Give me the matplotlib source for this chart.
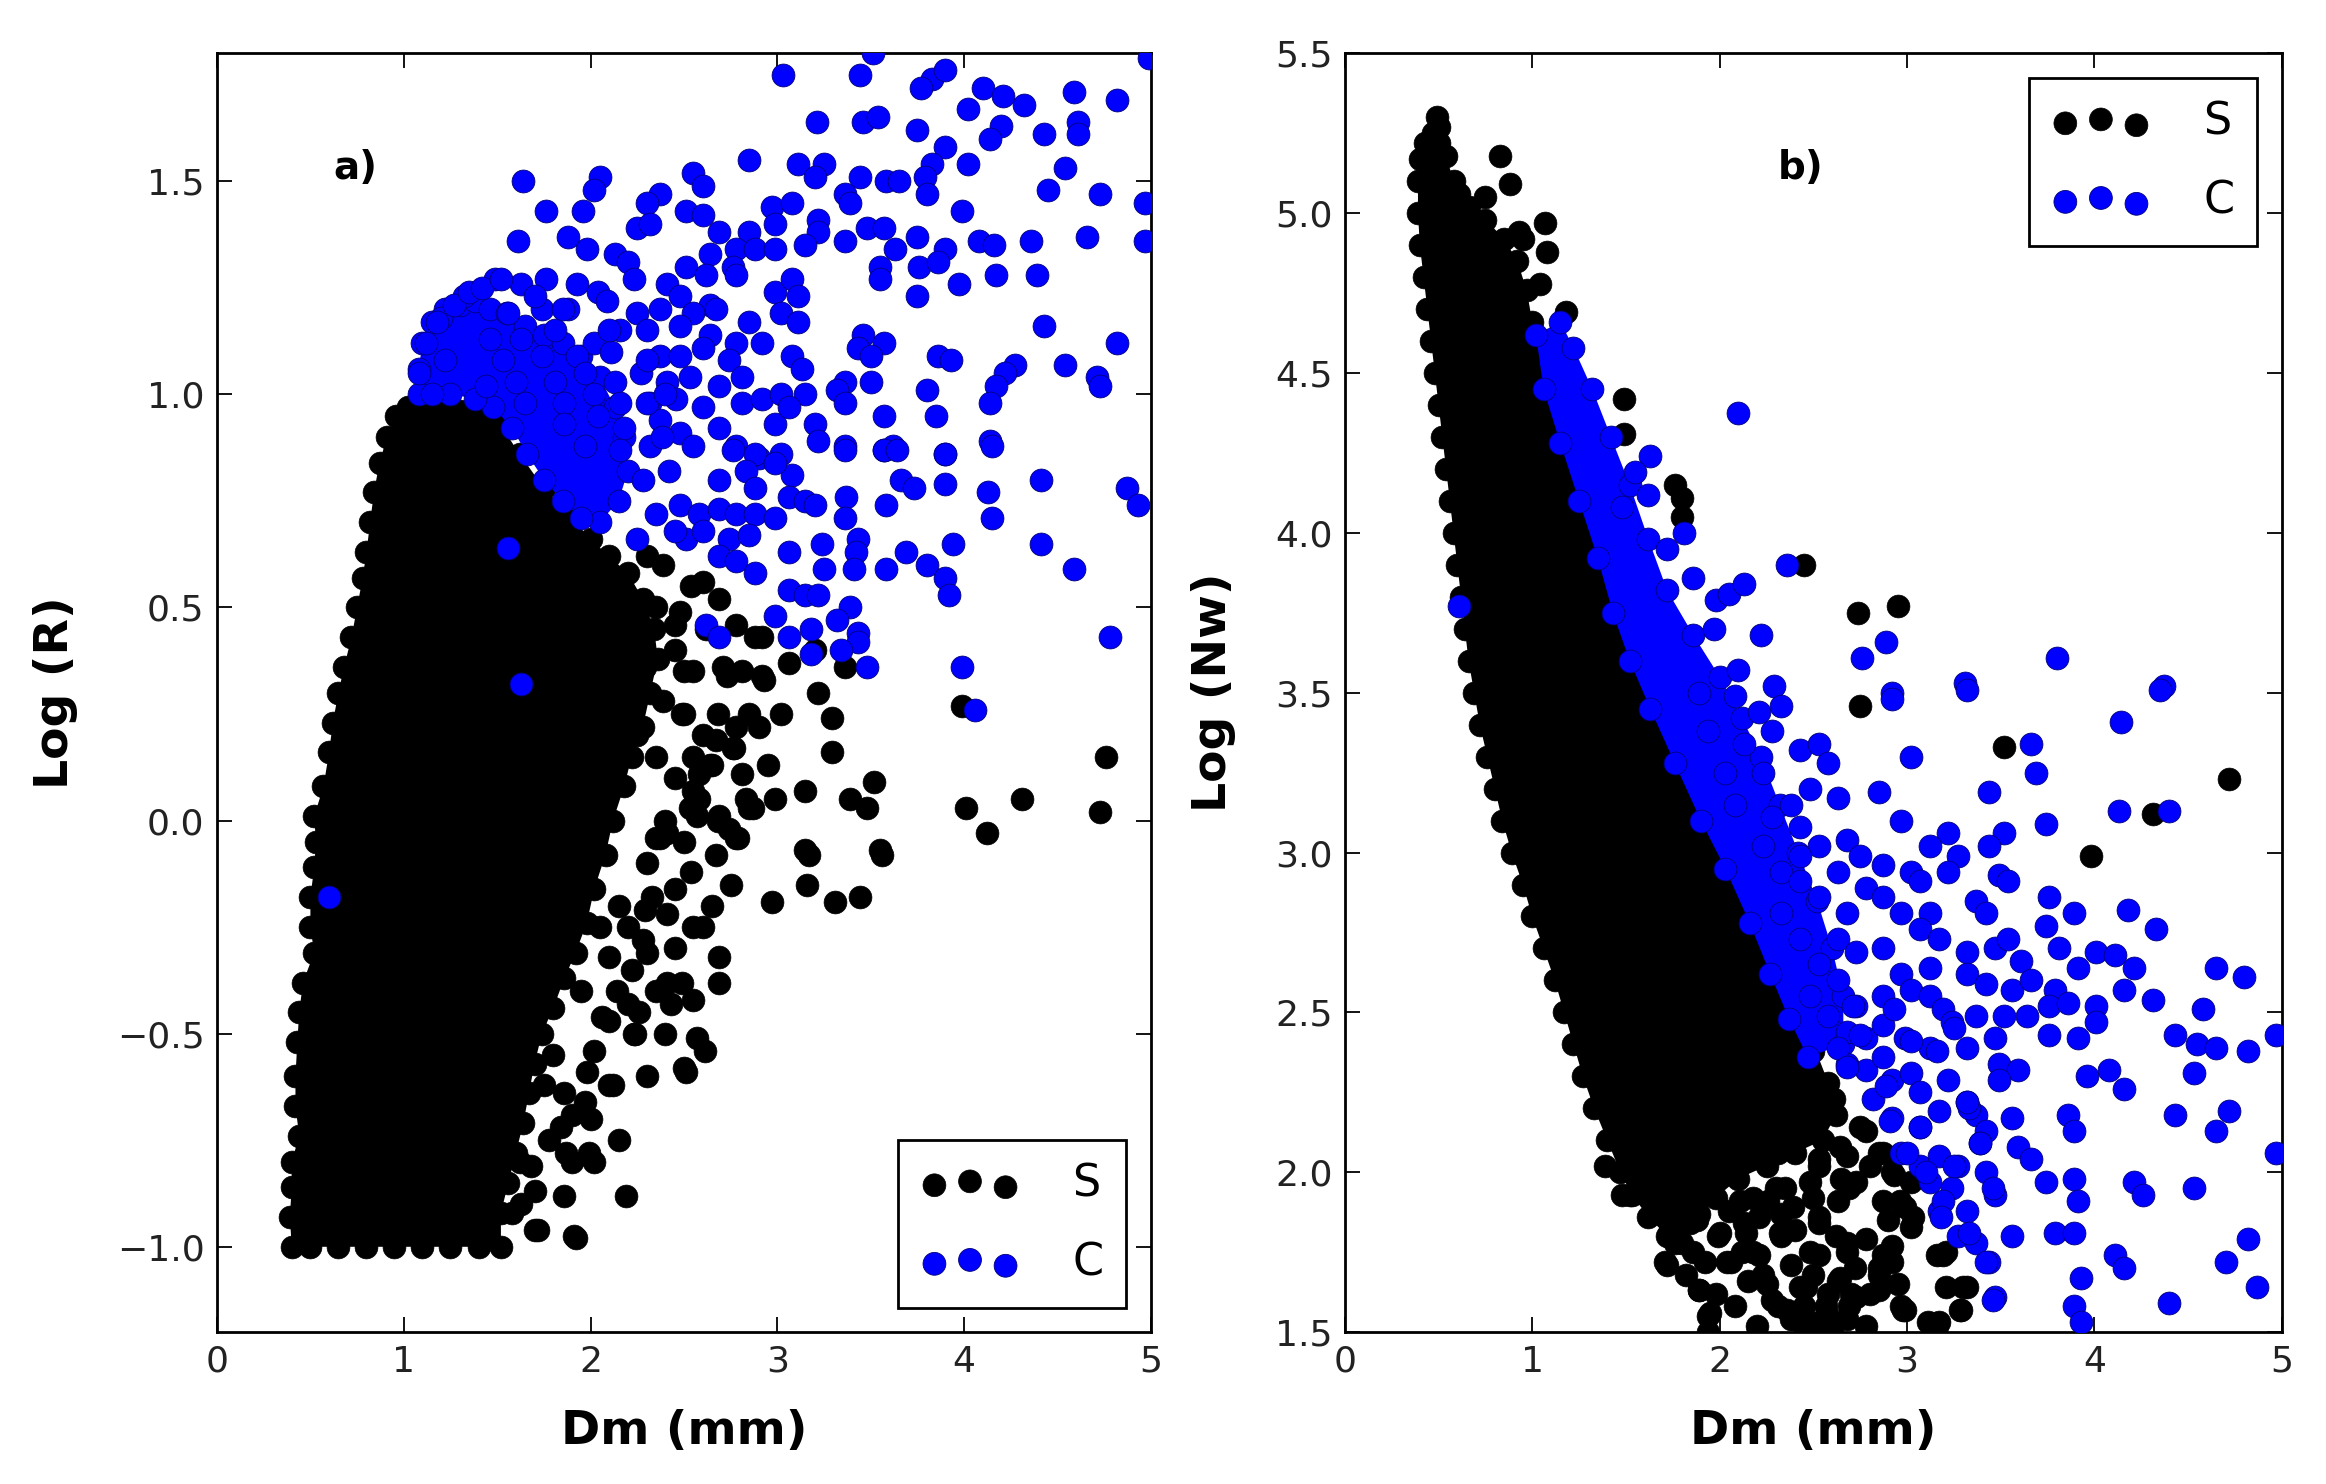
import matplotlib
matplotlib.use('Agg')
import matplotlib.pyplot as plt

plt.rcParams['font.family'] = ['DejaVu Sans']
plt.rcParams['axes.unicode_minus'] = True

# ---------------- Panel a) : Dm vs Log(R) ----------------
# centres of the outermost S points around the saturated black cloud
a_core_x = [0.40, 0.39, 0.40, 0.40, 0.44, 0.42, 0.42, 0.43, 0.44, 0.46, 0.52, 0.50, 0.50, 0.52, 0.53, 0.52,
            0.57, 0.60, 0.62, 0.65, 0.68, 0.72, 0.75, 0.78, 0.80, 0.82, 0.84, 0.87, 0.91, 0.96,
            1.02, 1.10, 1.20, 1.30, 1.40, 1.50,
            1.62, 1.75, 1.88, 2.00, 2.10, 2.20, 2.28, 2.34, 2.36, 2.32, 2.28, 2.22, 2.18, 2.12, 2.08, 2.02,
            1.98, 1.92, 1.86, 1.80, 1.74, 1.70, 1.67, 1.64, 1.60, 1.56, 1.52, 1.52,
            1.40, 1.25, 1.10, 0.95, 0.80, 0.65, 0.50]
a_core_y = [-1.00, -0.93, -0.86, -0.80, -0.74, -0.67, -0.60, -0.52, -0.45, -0.38, -0.31, -0.25, -0.18, -0.11,
            -0.05, 0.01, 0.08, 0.16, 0.23, 0.30, 0.36, 0.43, 0.50, 0.57, 0.63, 0.70, 0.77, 0.84, 0.90, 0.95,
            0.97, 0.97, 0.97, 0.96, 0.95, 0.94,
            0.86, 0.78, 0.72, 0.66, 0.62, 0.58, 0.52, 0.45, 0.38, 0.30, 0.22, 0.15, 0.08, 0.00, -0.08, -0.16,
            -0.24, -0.31, -0.37, -0.44, -0.50, -0.57, -0.64, -0.71, -0.78, -0.85, -0.92, -1.00,
            -1.00, -1.00, -1.00, -1.00, -1.00, -1.00, -1.00]
# scattered S points
a_s_x = [2.39, 2.60, 2.69, 2.48, 2.78, 2.88, 2.92, 2.71, 2.81, 2.92, 3.06, 3.20, 3.36, 3.22, 3.02, 2.85, 2.78,
         2.90, 2.67, 2.76, 2.55, 2.64, 2.95, 3.29, 3.29, 3.15, 2.99, 2.83, 2.69, 2.74, 2.78, 3.39, 3.48, 3.52,
         3.15, 3.55, 4.01, 4.12, 4.31, 4.73, 4.76, 3.99, 2.55, 2.53, 2.41, 2.37,
         3.56, 3.17, 3.44, 3.31, 2.97, 3.16, 2.57, 2.67, 2.69, 2.69, 2.55, 2.57, 2.61, 2.51, 2.23, 2.19, 1.92,
         1.86, 2.02, 1.90, 1.70, 2.33, 2.41, 2.45, 2.30, 2.22, 2.14, 2.35, 2.41, 2.26, 2.10, 2.02, 1.98, 1.86,
         1.90, 1.78, 1.62, 1.70, 1.58, 2.85, 2.81, 2.65, 2.60, 2.49, 2.43, 2.24, 2.50, 1.99, 1.87, 2.75, 2.54,
         2.79, 2.68, 2.35, 2.29, 2.10, 2.20, 2.06, 1.97, 1.84, 1.68, 1.63, 1.72, 1.91,
         2.54, 2.73, 2.93, 2.77, 2.58, 2.87, 2.45, 2.49, 2.29, 2.39, 2.68, 2.58,
         2.30, 2.45, 2.35, 2.50, 2.35, 2.45, 2.25, 2.40, 2.30, 2.05, 2.15, 1.95, 1.80, 1.75, 2.12, 2.28,
         2.00, 2.10, 2.15, 2.30, 2.40, 2.55, 2.65, 2.45, 2.20, 2.50, 2.60, 2.50, 2.55, 2.62]
a_s_y = [0.60, 0.56, 0.52, 0.49, 0.46, 0.43, 0.43, 0.36, 0.35, 0.34, 0.37, 0.40, 0.36, 0.30, 0.25, 0.25, 0.22,
         0.22, 0.19, 0.17, 0.15, 0.13, 0.13, 0.24, 0.16, 0.07, 0.05, 0.05, 0.01, -0.02, -0.04, 0.05, 0.03, 0.09,
         -0.07, -0.07, 0.03, -0.03, 0.05, 0.02, 0.15, 0.27, 0.07, 0.03, -0.03, -0.04,
         -0.08, -0.08, -0.18, -0.19, -0.19, -0.15, 0.01, -0.08, -0.32, -0.38, -0.25, -0.51, -0.54, -0.59, -0.50,
         -0.88, -0.98, -0.88, -0.80, -0.80, -0.96, -0.18, -0.22, -0.16, -0.31, -0.35, -0.40, -0.40, -0.38, -0.45,
         -0.47, -0.54, -0.59, -0.64, -0.69, -0.75, -0.80, -0.87, -0.92, 0.03, 0.11, 0.13, -0.25, -0.38, -0.43,
         -0.50, -0.58, -0.78, -0.78, -0.15, -0.12, -0.04, 0.00, -0.04, -0.21, -0.32, -0.43, -0.46, -0.66, -0.72,
         -0.81, -0.90, -0.96, -0.975,
         0.55, 0.34, 0.33, 0.17, 0.11, 0.03, 0.46, 0.25, 0.36, 0.28, 0.25, 0.05,
         0.62, 0.40, 0.50, 0.35, 0.15, 0.10, 0.20, 0.00, -0.10, -0.25, -0.20, -0.40, -0.55, -0.62, -0.62, -0.28,
         -0.70, -0.62, -0.75, -0.60, -0.50, -0.42, -0.20, -0.30, -0.25, -0.05, 0.20, 0.25, 0.35, 0.45]
# centres of the outermost C points around the saturated blue cluster
a_blue_core_x = [1.08, 1.08, 1.10, 1.15, 1.22, 1.30, 1.38, 1.46, 1.55, 1.65, 1.75, 1.85, 1.95, 2.05, 2.13,
                 2.18, 2.20, 2.15, 2.05, 1.95, 1.85, 1.75, 1.66, 1.58, 1.48, 1.38, 1.25, 1.15]
a_blue_core_y = [1.00, 1.06, 1.12, 1.17, 1.20, 1.21, 1.22, 1.20, 1.19, 1.16, 1.14, 1.12, 1.09, 1.04, 0.97,
                 0.90, 0.82, 0.75, 0.70, 0.71, 0.75, 0.80, 0.86, 0.92, 0.97, 0.99, 1.00, 1.00]
# scattered C points
a_c_x = [3.03, 3.44, 3.51, 3.83, 3.90, 3.77, 4.10, 4.21, 4.32, 4.02, 4.59, 4.82, 3.21, 3.46, 3.54, 3.75, 4.20,
         4.14, 4.43, 4.61, 4.61, 2.85, 3.11, 3.25, 3.90, 3.83, 4.02, 4.54, 1.64, 2.05, 2.02, 2.55, 2.60, 3.20,
         3.44, 3.58, 3.65, 3.79, 4.45, 4.73, 4.97, 1.76, 1.96, 2.37, 2.30, 2.51, 2.60, 2.97, 3.08, 3.36, 3.39,
         3.80, 3.99, 1.61, 1.88, 1.98, 2.25, 2.32, 2.69, 2.85, 2.99, 3.22, 3.22, 3.15, 3.36, 3.48, 3.57, 3.63,
         3.75, 3.90, 4.08, 4.16, 4.36, 4.66, 4.97, 2.13, 2.20, 2.51, 2.64, 2.78, 2.88, 2.99, 2.62, 2.76, 3.55,
         3.55, 3.76, 3.86, 3.97, 4.17, 4.39, 1.49, 1.63, 1.76, 1.93, 2.04, 2.23, 2.41, 2.48, 2.64, 2.78, 2.99,
         3.08, 3.11, 3.75, 1.56, 1.74, 1.88, 2.09, 2.25, 2.37, 2.55, 2.67, 2.85, 3.02, 3.11, 4.43, 4.82, 1.46,
         1.63, 1.81, 2.02, 2.16, 2.30, 2.48, 2.64, 2.78, 2.92, 3.46, 3.43, 3.57, 3.50, 1.53, 1.74, 1.93, 2.11,
         2.37, 2.48, 2.60, 2.74, 3.08, 3.13, 3.86, 3.93, 4.27, 4.22, 4.54, 4.71, 4.73, 1.44, 1.60, 1.81, 1.97,
         2.13, 2.27, 2.41, 2.53, 2.69, 2.81, 3.36, 3.50, 3.80, 4.17, 4.14, 1.65, 1.86, 2.02, 2.16, 2.32, 2.46,
         2.60, 2.81, 2.92, 3.02, 3.15, 3.32, 3.36, 1.86, 2.04, 2.18, 2.37, 2.48, 2.69, 2.99, 3.06, 3.20, 3.57,
         3.85, 1.97, 2.16, 2.32, 2.55, 2.78, 2.90, 3.02, 3.36, 3.57, 3.62, 3.90, 4.14,
         3.22, 3.36, 3.57, 3.64, 3.90, 4.15, 3.08, 3.66, 3.73, 3.90, 4.13, 4.41, 4.87, 4.93, 2.76, 2.88, 2.99,
         2.69, 2.83, 2.88, 3.06, 3.15, 3.20, 3.37, 3.58, 4.15, 2.48, 2.58, 2.69, 2.78, 2.88, 2.99, 3.36, 2.51,
         2.60, 2.74, 2.85, 3.06, 3.24, 3.43, 3.42, 3.69, 3.94, 4.41, 2.69, 2.78, 2.88, 3.25, 3.41, 3.58, 3.80,
         3.90, 3.92, 4.59, 3.06, 3.15, 3.22, 3.39, 2.99, 2.62, 2.69, 3.18, 3.32, 3.43, 3.43, 3.06, 3.34, 3.18,
         3.48, 3.99, 4.78, 4.06,
         1.32, 1.20, 1.12, 1.18, 1.27, 1.35, 1.08, 1.22, 1.56, 1.63, 0.60, 4.99,
         2.30, 2.38, 2.28, 2.42, 2.35, 2.25, 2.45, 2.40, 1.42, 1.52, 1.70, 1.85, 2.10, 2.30]
a_c_y = [1.75, 1.75, 1.80, 1.74, 1.76, 1.72, 1.72, 1.70, 1.68, 1.67, 1.71, 1.69, 1.64, 1.64, 1.65, 1.62, 1.63,
         1.60, 1.61, 1.64, 1.61, 1.55, 1.54, 1.54, 1.58, 1.54, 1.54, 1.53, 1.50, 1.51, 1.48, 1.52, 1.49, 1.51,
         1.51, 1.50, 1.50, 1.51, 1.48, 1.47, 1.45, 1.43, 1.43, 1.47, 1.45, 1.43, 1.42, 1.44, 1.45, 1.47, 1.45,
         1.47, 1.43, 1.36, 1.37, 1.34, 1.39, 1.40, 1.38, 1.38, 1.40, 1.41, 1.38, 1.35, 1.36, 1.39, 1.39, 1.34,
         1.37, 1.34, 1.36, 1.35, 1.36, 1.37, 1.36, 1.33, 1.31, 1.30, 1.33, 1.34, 1.34, 1.34, 1.28, 1.30, 1.30,
         1.27, 1.30, 1.31, 1.26, 1.28, 1.28, 1.27, 1.26, 1.27, 1.26, 1.24, 1.27, 1.26, 1.23, 1.21, 1.28, 1.24,
         1.27, 1.23, 1.23, 1.19, 1.20, 1.20, 1.22, 1.19, 1.20, 1.19, 1.20, 1.17, 1.19, 1.17, 1.16, 1.12, 1.13,
         1.13, 1.15, 1.12, 1.15, 1.15, 1.16, 1.14, 1.12, 1.12, 1.14, 1.11, 1.12, 1.09, 1.08, 1.09, 1.09, 1.10,
         1.09, 1.09, 1.11, 1.08, 1.09, 1.06, 1.09, 1.08, 1.07, 1.05, 1.07, 1.04, 1.02, 1.02, 1.03, 1.03, 1.05,
         1.03, 1.05, 1.03, 1.04, 1.02, 1.04, 1.03, 1.03, 1.01, 1.02, 0.98, 0.98, 0.98, 1.00, 0.98, 0.98, 0.99,
         0.97, 0.98, 0.99, 1.00, 1.00, 1.01, 0.98, 0.93, 0.95, 0.92, 0.94, 0.91, 0.92, 0.93, 0.97, 0.93, 0.95,
         0.95, 0.88, 0.87, 0.88, 0.88, 0.88, 0.85, 0.86, 0.88, 0.87, 0.88, 0.86, 0.89,
         0.89, 0.87, 0.87, 0.87, 0.86, 0.88, 0.81, 0.80, 0.78, 0.79, 0.77, 0.80, 0.78, 0.74, 0.87, 0.86, 0.84,
         0.80, 0.82, 0.78, 0.76, 0.75, 0.74, 0.76, 0.74, 0.71, 0.74, 0.72, 0.73, 0.72, 0.72, 0.71, 0.71, 0.66,
         0.68, 0.66, 0.67, 0.63, 0.65, 0.66, 0.63, 0.63, 0.65, 0.65, 0.62, 0.61, 0.58, 0.59, 0.59, 0.59, 0.60,
         0.57, 0.53, 0.59, 0.54, 0.53, 0.53, 0.50, 0.48, 0.46, 0.43, 0.45, 0.47, 0.44, 0.42, 0.43, 0.40, 0.39,
         0.36, 0.36, 0.43, 0.26,
         1.23, 1.18, 1.12, 1.17, 1.21, 1.24, 1.05, 1.08, 0.64, 0.32, -0.18, 1.79,
         0.98, 0.90, 0.80, 0.82, 0.72, 0.66, 0.68, 1.00, 1.25, 1.27, 1.23, 1.20, 1.15, 1.08]

# ---------------- Panel b) : Dm vs Log(Nw) ----------------
# centres of the outermost S points around the saturated black cloud
b_core_x = [1.80, 1.72, 1.62, 1.53, 1.47, 1.40, 1.33, 1.27, 1.22, 1.17, 1.12, 1.06, 1.00, 0.95, 0.89, 0.84,
            0.80, 0.76, 0.72, 0.69, 0.66, 0.64, 0.62, 0.60, 0.58, 0.56, 0.54, 0.52, 0.50, 0.48, 0.46, 0.44,
            0.42, 0.40, 0.39, 0.39, 0.40, 0.43, 0.47, 0.50,
            0.54, 0.58, 0.66, 0.75, 0.85, 0.92, 0.97, 1.00, 1.04, 1.10, 1.22, 1.33, 1.43, 1.52, 1.65, 1.90,
            2.08, 2.26, 2.38, 2.50, 2.58, 2.62, 2.55, 2.40, 2.25, 2.10, 1.98, 1.88]
b_core_y = [1.78, 1.80, 1.86, 1.93, 2.00, 2.10, 2.20, 2.30, 2.40, 2.50, 2.60, 2.70, 2.80, 2.90, 3.00, 3.10,
            3.20, 3.30, 3.40, 3.50, 3.60, 3.70, 3.80, 3.90, 4.00, 4.10, 4.20, 4.30, 4.40, 4.50, 4.60, 4.70,
            4.80, 4.90, 5.00, 5.10, 5.17, 5.22, 5.25, 5.27,
            5.18, 5.10, 5.02, 4.98, 4.92, 4.85, 4.76, 4.66, 4.58, 4.41, 4.22, 4.03, 3.83, 3.64, 3.50, 3.15,
            2.95, 2.76, 2.56, 2.40, 2.28, 2.18, 2.10, 2.06, 2.02, 1.98, 1.92, 1.85]
b_s_x = [2.45, 2.74, 2.95, 1.49, 1.49, 1.76, 1.80, 1.80, 1.07, 1.08, 1.04, 1.18, 0.83, 0.88, 0.75, 0.61,
         0.49, 0.50, 0.93, 0.95,
         1.39, 1.52, 1.71, 1.89, 1.94, 2.06, 2.23, 2.18, 2.33, 2.38, 2.43, 2.53, 2.53, 2.68, 2.63, 2.73, 2.87,
         2.85, 2.97, 3.02, 2.99, 2.87, 3.02, 2.92, 2.87, 2.73, 2.63, 2.48, 2.33, 2.26, 2.13, 1.99, 1.84, 1.76,
         1.64, 2.68, 2.53, 2.38, 2.31, 1.94, 3.17, 3.32, 3.19, 3.29, 2.78, 2.68, 2.53, 2.31, 2.18, 2.75, 3.52,
         3.98, 4.31, 4.72, 2.99, 3.11, 3.21, 3.16, 2.92, 2.70, 2.45, 2.60,
         1.72, 1.89, 1.95, 1.48, 1.73, 1.86, 2.00, 2.04, 2.21, 2.25, 2.36, 2.39, 2.50, 2.57, 2.64, 2.69, 2.68,
         2.78, 2.85, 2.85, 2.92, 2.98, 3.03, 2.96, 2.93, 2.85, 2.75, 2.69, 2.53, 2.39, 2.30, 2.21, 2.11, 1.89,
         1.79, 1.57, 3.21, 3.16, 3.30, 3.28, 2.46, 2.32, 2.14, 2.25, 2.39, 2.53, 2.64, 2.61, 2.50, 2.46,
         1.98, 2.08, 2.15, 2.28, 2.20, 2.45, 2.58, 2.48, 2.40, 2.62, 2.72, 2.80, 2.78, 2.95, 2.05, 2.18, 2.35,
         2.50, 2.65, 2.80, 1.92, 1.82, 2.12, 2.58, 2.90]
b_s_y = [3.90, 3.75, 3.77, 4.42, 4.31, 4.15, 4.11, 4.05, 4.97, 4.88, 4.78, 4.69, 5.18, 5.09, 5.05, 5.06,
         5.30, 5.22, 4.94, 4.92,
         2.02, 1.93, 1.72, 1.63, 1.55, 1.72, 1.68, 1.75, 1.80, 1.71, 1.64, 1.74, 1.84, 1.78, 1.66, 1.61, 1.74,
         1.68, 1.58, 1.83, 1.89, 1.91, 1.97, 2.00, 2.06, 1.97, 1.91, 1.97, 1.87, 1.91, 1.84, 1.80, 1.84, 1.78,
         1.91, 1.54, 1.53, 1.54, 1.58, 1.50, 1.53, 1.64, 1.74, 1.57, 2.13, 2.05, 2.02, 2.06, 2.10, 3.46, 3.33,
         2.99, 3.12, 3.23, 1.57, 1.53, 1.64, 1.74, 1.72, 1.62, 1.52, 1.50,
         1.71, 1.63, 1.56, 1.93, 1.81, 1.75, 1.81, 1.72, 1.74, 1.65, 1.57, 1.54, 1.68, 1.58, 1.67, 1.58, 1.75,
         1.79, 1.70, 1.63, 1.77, 1.57, 1.86, 1.91, 1.99, 2.06, 2.14, 1.95, 1.86, 1.89, 1.95, 1.86, 1.91, 1.87,
         1.91, 1.95, 1.75, 1.52, 1.64, 1.57, 1.64, 1.81, 1.81, 2.07, 2.12, 2.04, 2.08, 2.23, 2.38, 2.49,
         1.62, 1.58, 1.66, 1.60, 1.52, 1.58, 1.62, 1.75, 1.82, 1.80, 1.70, 1.62, 1.52, 1.65, 1.88, 1.92, 1.95,
         1.92, 1.98, 2.02, 1.72, 1.68, 1.75, 1.55, 1.85]
# centres of the outermost C points around the saturated blue band
b_blue_core_x = [1.02, 1.06, 1.15, 1.25, 1.35, 1.43, 1.52, 1.63, 1.76, 1.90, 2.03, 2.16, 2.27, 2.37, 2.47,
                 2.66, 2.66, 2.60, 2.52, 2.42, 2.32, 2.22, 2.12, 2.00, 1.86, 1.72, 1.62, 1.52, 1.42, 1.32,
                 1.22, 1.15]
b_blue_core_y = [4.62, 4.45, 4.28, 4.10, 3.92, 3.75, 3.60, 3.45, 3.28, 3.10, 2.95, 2.78, 2.62, 2.48, 2.36,
                 2.40, 2.55, 2.70, 2.85, 3.00, 3.15, 3.30, 3.42, 3.55, 3.68, 3.82, 3.98, 4.15, 4.30, 4.45,
                 4.58, 4.66]
b_c_x = [2.10, 1.63, 1.55, 1.62, 1.48, 1.81, 1.72, 1.86, 1.98, 2.05, 2.13, 1.97, 2.22, 2.36, 2.76, 2.89,
         3.31, 2.92, 2.10, 2.29, 3.80, 4.37, 0.61,
         3.32, 4.35, 2.92, 4.14, 3.02, 3.66, 3.69, 3.44, 2.85, 4.13, 4.40, 3.74, 2.97, 3.22, 3.52, 3.44, 3.12,
         3.27, 2.68, 2.75, 2.53, 2.43, 2.63, 2.87, 3.02, 3.07, 3.22, 3.49, 3.54, 3.37, 3.42, 3.76, 3.89, 4.18,
         4.33, 3.74, 2.78, 2.87, 2.53, 2.68, 2.97, 3.12, 3.07, 3.17, 3.32, 3.47, 3.54, 3.61, 3.81, 3.91, 4.01,
         4.11, 4.21, 4.65, 4.80, 2.63, 2.73, 2.87, 2.97, 3.12, 3.32, 3.42, 3.56, 3.66, 3.79, 3.76, 3.86, 4.01,
         4.16, 4.31, 4.58, 4.97, 2.63, 2.73, 2.87, 3.02, 3.12, 3.19, 3.37, 3.52, 3.64, 3.76, 3.91, 4.01, 4.43,
         4.55, 4.65, 4.82, 2.68, 2.78, 2.87, 2.99, 3.12, 3.24, 3.32, 3.47, 3.49, 3.59, 3.96, 4.08, 4.16, 4.53,
         2.68, 2.78, 2.87, 2.92, 3.02, 3.07, 3.22, 3.32, 3.37, 3.56, 3.86, 3.89, 4.43, 4.65, 4.72, 2.82, 2.92,
         3.07, 3.17, 3.42, 3.39, 3.59, 3.66, 3.74, 3.89, 3.91, 4.21, 4.26, 4.53, 4.97, 2.97, 3.07, 3.17, 3.27,
         3.42, 3.47, 3.12, 3.24, 3.32, 3.17, 3.56, 3.79, 3.89, 3.27, 3.37, 3.44, 4.11, 4.16, 3.93, 4.70, 4.82,
         4.87, 3.47, 3.89, 3.93, 4.40,
         1.89, 2.08, 2.21, 2.33, 2.13, 2.28, 2.43, 2.53, 2.58, 2.63, 2.48, 2.38, 2.23, 2.28, 2.43, 2.23, 2.33,
         2.43, 2.33, 2.43, 2.53, 2.48, 2.58, 2.63, 2.08, 2.03, 1.94,
         2.91, 3.07, 3.00, 3.10, 3.19, 3.18, 3.33, 3.42, 3.46, 3.33, 3.39, 3.25, 3.46, 3.02, 3.16, 2.89, 2.68,
         2.75, 3.25, 3.49, 3.32, 2.93, 2.71]
b_c_y = [4.375, 4.24, 4.19, 4.12, 4.08, 4.00, 3.95, 3.86, 3.79, 3.81, 3.84, 3.70, 3.68, 3.90, 3.61, 3.66,
         3.53, 3.50, 3.57, 3.52, 3.61, 3.52, 3.77,
         3.51, 3.51, 3.48, 3.41, 3.30, 3.34, 3.25, 3.19, 3.19, 3.13, 3.13, 3.09, 3.10, 3.06, 3.06, 3.02, 3.02,
         2.99, 3.04, 2.99, 3.02, 2.99, 2.94, 2.96, 2.94, 2.91, 2.94, 2.93, 2.91, 2.85, 2.81, 2.86, 2.81, 2.82,
         2.76, 2.77, 2.89, 2.86, 2.86, 2.81, 2.81, 2.81, 2.76, 2.73, 2.69, 2.70, 2.73, 2.66, 2.70, 2.64, 2.69,
         2.68, 2.64, 2.64, 2.61, 2.73, 2.69, 2.70, 2.62, 2.64, 2.62, 2.59, 2.57, 2.60, 2.57, 2.52, 2.53, 2.52,
         2.57, 2.54, 2.51, 2.43, 2.60, 2.52, 2.55, 2.57, 2.55, 2.51, 2.49, 2.49, 2.49, 2.43, 2.42, 2.47, 2.43,
         2.40, 2.39, 2.38, 2.44, 2.42, 2.46, 2.42, 2.39, 2.47, 2.39, 2.42, 2.34, 2.32, 2.30, 2.32, 2.26, 2.31,
         2.34, 2.32, 2.36, 2.29, 2.31, 2.25, 2.29, 2.22, 2.18, 2.17, 2.18, 2.13, 2.18, 2.13, 2.19, 2.23, 2.17,
         2.14, 2.19, 2.13, 2.09, 2.08, 2.04, 1.97, 1.98, 1.91, 1.97, 1.93, 1.95, 2.06, 2.06, 2.02, 2.05, 2.02,
         2.00, 1.93, 1.97, 1.95, 1.88, 1.88, 1.80, 1.81, 1.81, 1.80, 1.78, 1.72, 1.74, 1.70, 1.67, 1.72, 1.79,
         1.64, 1.61, 1.58, 1.53, 1.59,
         3.50, 3.49, 3.44, 3.46, 3.34, 3.38, 3.32, 3.34, 3.28, 3.17, 3.20, 3.15, 3.25, 3.11, 3.08, 3.02, 2.94,
         2.91, 2.81, 2.73, 2.65, 2.55, 2.49, 2.39, 3.15, 3.25, 3.38,
         2.16, 2.14, 2.06, 2.00, 1.91, 1.86, 1.81, 1.72, 1.60, 2.20, 2.09, 2.02, 1.95, 2.41, 2.38, 2.27, 2.33,
         2.43, 2.45, 2.29, 2.22, 2.51, 2.52]

xticks = [0, 1, 2, 3, 4, 5]
a_yticks = [-1.0, -0.5, 0.0, 0.5, 1.0, 1.5]
b_yticks = [1.5, 2.0, 2.5, 3.0, 3.5, 4.0, 4.5, 5.0, 5.5]

BLUE = '#0000ff'
S_SIZE = 270

fig = plt.figure(figsize=(23.26, 14.84), dpi=100)
fig.patch.set_facecolor('white')
axa = fig.add_axes([0.0933, 0.1024, 0.4015, 0.8616])
axb = fig.add_axes([0.5782, 0.1024, 0.4028, 0.8616])


def style(ax, yticks, ylim, ylabel, tag, tagxy):
    ax.set_xlim(0, 5)
    ax.set_ylim(*ylim)
    ax.set_xticks(xticks)
    ax.set_yticks(yticks)
    ax.set_xticklabels([str(t) for t in xticks])
    ax.set_yticklabels([f'{t:.1f}'.replace('-', '\u2212') for t in yticks])
    ax.tick_params(direction='in', top=True, right=True, length=11, width=1.3,
                   labelsize=26, pad=9, colors='black', labelcolor='#222222')
    for sp in ax.spines.values():
        sp.set_linewidth(2.0)
        sp.set_color('black')
    ax.set_xlabel('Dm (mm)', fontsize=34, fontweight='bold', labelpad=22)
    ax.set_ylabel(ylabel, fontsize=34, fontweight='bold', labelpad=28)
    ax.text(tagxy[0], tagxy[1], tag, fontsize=28, fontweight='bold', ha='center', va='center', zorder=5)


def draw(ax, core_x, core_y, sx, sy, bcore_x, bcore_y, cx, cy):
    kw_s = dict(s=S_SIZE, c='black', edgecolors='black', linewidths=0.5, zorder=2)
    kw_c = dict(s=S_SIZE, c=BLUE, edgecolors='#00007a', linewidths=0.6, zorder=3)
    ax.fill(core_x, core_y, color='black', lw=0, zorder=2)
    ax.scatter(core_x, core_y, **kw_s)
    ax.scatter(sx, sy, label='S', **kw_s)
    ax.fill(bcore_x, bcore_y, color=BLUE, lw=0, zorder=3)
    ax.scatter(bcore_x, bcore_y, **kw_c)
    ax.scatter(cx, cy, label='C', **kw_c)


draw(axa, a_core_x, a_core_y, a_s_x, a_s_y, a_blue_core_x, a_blue_core_y, a_c_x, a_c_y)
draw(axb, b_core_x, b_core_y, b_s_x, b_s_y, b_blue_core_x, b_blue_core_y, b_c_x, b_c_y)

style(axa, a_yticks, (-1.2, 1.8), 'Log (R)', 'a)', (0.74, 1.53))
style(axb, b_yticks, (1.5, 5.5), 'Log (Nw)', 'b)', (2.43, 5.14))

for ax, loc in ((axa, 'lower right'), (axb, 'upper right')):
    leg = ax.legend(loc=loc, scatterpoints=3, scatteryoffsets=[0.375, 0.5, 0.3125],
                    fontsize=32, frameon=True, fancybox=False, framealpha=1,
                    edgecolor='black', borderaxespad=0.55, handlelength=2.2,
                    handletextpad=1.2, borderpad=0.52, labelspacing=0.8)
    leg.get_frame().set_linewidth(2.0)
    leg.set_zorder(10)

fig.savefig('out.png', dpi=100, facecolor='white')
